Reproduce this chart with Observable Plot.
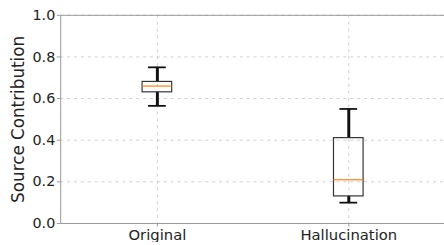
<!DOCTYPE html>
<html>
<head>
<meta charset="utf-8">
<script src="https://cdn.jsdelivr.net/npm/d3@7"></script>
<script src="https://cdn.jsdelivr.net/npm/@observablehq/plot@0.6"></script>
<style>
  html, body { margin: 0; padding: 0; background: #fff; overflow: hidden; }
  #chart svg { display: block; font-family: "DejaVu Sans", sans-serif; }
</style>
</head>
<body>
<div id="chart"></div>
<script>
const categories = ["Original", "Hallucination"];
const whiskerLow = [0.565, 0.10];
const q1 = [0.63, 0.13];
const median = [0.66, 0.21];
const q3 = [0.68, 0.41];
const whiskerHigh = [0.75, 0.55];
const yTicks = [0, 0.2, 0.4, 0.6, 0.8, 1.0];
const yLabel = "Source Contribution";

const data = categories.map((c, i) => ({
  cat: c, lo: whiskerLow[i], q1: q1[i], med: median[i], q3: q3[i], hi: whiskerHigh[i]
}));

const chart = Plot.plot({
  width: 450,
  height: 245,
  marginLeft: 61,
  marginRight: 0,
  marginTop: 15,
  marginBottom: 19,
  x: { type: "band", domain: categories, paddingInner: 0.846, paddingOuter: 0.423 },
  y: { domain: [0, 1] },
  marks: [
    Plot.gridY(yTicks, { stroke: "#c4c4c4", strokeOpacity: 1, strokeDasharray: "3,4", strokeWidth: 0.8 }),
    Plot.gridX(categories, { stroke: "#c4c4c4", strokeOpacity: 1, strokeDasharray: "3,4", strokeWidth: 0.8 }),
    Plot.frame({ stroke: "#999", strokeWidth: 1 }),
    Plot.axisY({ ticks: yTicks, tickFormat: ".1f", tickSize: 3.5, tickPadding: 2, stroke: "#999", fill: "#222", fontSize: 14.5, label: null }),
    Plot.axisX({ tickSize: 3.5, tickPadding: 3, stroke: "#999", fill: "#222", fontSize: 15, label: null }),
    Plot.text([yLabel], { frameAnchor: "left", textAnchor: "middle", rotate: -90, dx: -43, fontSize: 17, fill: "#222" }),
    Plot.ruleX(data, { x: "cat", y1: "q3", y2: "hi", stroke: "#111", strokeWidth: 3 }),
    Plot.ruleX(data, { x: "cat", y1: "lo", y2: "q1", stroke: "#111", strokeWidth: 3 }),
    Plot.tickY(data, { x: "cat", y: "hi", stroke: "#111", strokeWidth: 1.8, insetLeft: 6, insetRight: 6 }),
    Plot.tickY(data, { x: "cat", y: "lo", stroke: "#111", strokeWidth: 1.8, insetLeft: 6, insetRight: 6 }),
    Plot.barY(data, { x: "cat", y1: "q1", y2: "q3", fill: "none", stroke: "#333", strokeWidth: 1.2 }),
    Plot.tickY(data, { x: "cat", y: "med", stroke: "#ff7f0e", strokeWidth: 1.2 })
  ]
});
document.getElementById("chart").appendChild(chart);
</script>
</body>
</html>
